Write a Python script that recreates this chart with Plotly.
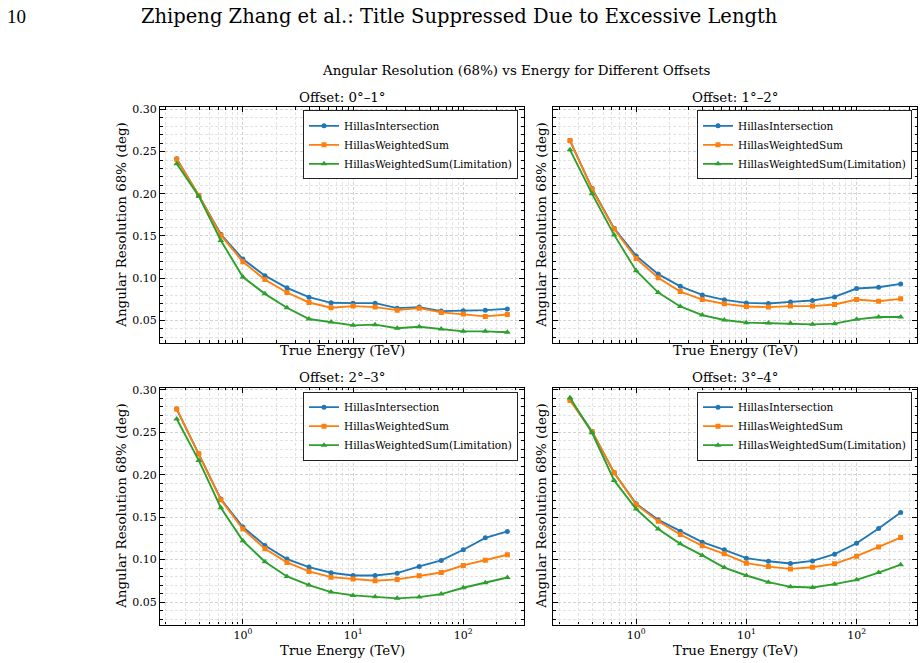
import plotly.graph_objects as go

energy = [0.251, 0.398, 0.631, 1.0, 1.585, 2.512, 3.981, 6.31, 10.0, 15.85, 25.12, 39.81, 63.1, 100.0, 158.5, 251.2]

offsets = ["Offset: 0°–1°", "Offset: 1°–2°", "Offset: 2°–3°", "Offset: 3°–4°"]
series_names = ["HillasIntersection", "HillasWeightedSum", "HillasWeightedSum(Limitation)"]

# Offset 0-1
p1_inter = [0.2415, 0.198, 0.152, 0.1226, 0.103, 0.0885, 0.0775, 0.0708, 0.0704, 0.0704, 0.0645, 0.0657, 0.061, 0.0614, 0.0621, 0.0636]
p1_wsum = [0.241, 0.198, 0.151, 0.1195, 0.0983, 0.083, 0.0712, 0.0649, 0.0669, 0.0657, 0.0621, 0.0645, 0.0594, 0.0574, 0.0547, 0.057]
p1_lim = [0.2356, 0.1972, 0.1446, 0.1014, 0.0814, 0.0649, 0.0516, 0.048, 0.0441, 0.0449, 0.0406, 0.0425, 0.0398, 0.037, 0.037, 0.0359]
# Offset 1-2
p2_inter = [0.2631, 0.2062, 0.159, 0.1264, 0.1048, 0.0904, 0.0802, 0.0743, 0.0707, 0.07, 0.0719, 0.0735, 0.0778, 0.0877, 0.0892, 0.0932]
p2_wsum = [0.2631, 0.2054, 0.1583, 0.1233, 0.1005, 0.0841, 0.0747, 0.0696, 0.0665, 0.0657, 0.0669, 0.0669, 0.0688, 0.0747, 0.0727, 0.0755]
p2_lim = [0.2521, 0.1999, 0.1513, 0.1088, 0.0829, 0.0665, 0.0563, 0.0504, 0.0473, 0.0469, 0.0465, 0.0453, 0.0461, 0.0512, 0.054, 0.054]
# Offset 2-3
p3_inter = [0.2772, 0.2246, 0.1713, 0.1383, 0.1167, 0.1006, 0.0912, 0.0845, 0.0814, 0.0814, 0.0841, 0.092, 0.0991, 0.1116, 0.1257, 0.1332]
p3_wsum = [0.2772, 0.2246, 0.1705, 0.136, 0.1128, 0.0967, 0.0861, 0.0794, 0.0771, 0.0751, 0.0767, 0.081, 0.0849, 0.0932, 0.0994, 0.1057]
p3_lim = [0.2655, 0.2168, 0.1611, 0.1222, 0.0975, 0.0802, 0.07, 0.0618, 0.0579, 0.0563, 0.0544, 0.0559, 0.0594, 0.0669, 0.0727, 0.079]
# Offset 3-4
p4_inter = [0.2882, 0.2509, 0.2022, 0.1657, 0.1468, 0.1335, 0.1205, 0.1115, 0.1017, 0.0981, 0.0954, 0.0985, 0.1064, 0.1193, 0.1366, 0.1554]
p4_wsum = [0.2874, 0.2505, 0.2022, 0.1649, 0.1453, 0.1296, 0.1162, 0.1068, 0.0958, 0.0918, 0.0891, 0.0911, 0.095, 0.104, 0.115, 0.126]
p4_lim = [0.2906, 0.2493, 0.1932, 0.1595, 0.1359, 0.1186, 0.1049, 0.0907, 0.0813, 0.0735, 0.068, 0.0672, 0.0711, 0.0762, 0.0848, 0.094]

panels = [
    [p1_inter, p1_wsum, p1_lim],
    [p2_inter, p2_wsum, p2_lim],
    [p3_inter, p3_wsum, p3_lim],
    [p4_inter, p4_wsum, p4_lim],
]

x_tickvals = [1, 10, 100]
x_ticktext = ["10<sup>0</sup>", "10<sup>1</sup>", "10<sup>2</sup>"]
y_tickvals = [0.05, 0.10, 0.15, 0.20, 0.25, 0.30]
y_ticktext = ["0.05", "0.10", "0.15", "0.20", "0.25", "0.30"]

colors = ["#1f77b4", "#ff7f0e", "#2ca02c"]
symbols = ["circle", "square", "triangle-up"]
msizes = [5, 5, 6]

W, H = 924, 663
FONT = "DejaVu Serif"

def px_x(p):
    return p / W

def px_y(p):
    return 1 - p / H

xdoms = [[px_x(160), px_x(524)], [px_x(553.3), px_x(917.3)]]
ydoms = [[px_y(340.7), px_y(104)], [px_y(624.3), px_y(386)]]

fig = go.Figure()

for i, data in enumerate(panels):
    ax = "" if i == 0 else str(i + 1)
    leg = "legend" if i == 0 else f"legend{i + 1}"
    for k in range(3):
        fig.add_trace(go.Scatter(
            x=energy, y=data[k], mode="lines+markers", name=series_names[k],
            line=dict(color=colors[k], width=1.9),
            marker=dict(symbol=symbols[k], size=msizes[k], color=colors[k]),
            xaxis="x" + ax, yaxis="y" + ax, legend=leg,
        ))

layout = dict(
    width=W, height=H, margin=dict(l=0, r=0, t=0, b=0),
    paper_bgcolor="white", plot_bgcolor="white",
    font=dict(family=FONT, size=11, color="black"),
)

GRID_MAJ = "#d2d2d2"
GRID_MIN = "#e3e3e3"
DASH = "3px,2px"

common_x = dict(
    type="log", range=[-0.752, 2.551], showline=True, linecolor="black", linewidth=1.2,
    mirror="allticks", ticks="inside", ticklen=5, tickwidth=1, tickcolor="black",
    tickvals=x_tickvals, ticktext=x_ticktext,
    showgrid=True, gridcolor=GRID_MAJ, griddash=DASH, gridwidth=0.8,
    minor=dict(dtick="D1", ticks="inside", ticklen=2.5, tickcolor="black", showgrid=True,
               gridcolor=GRID_MIN, griddash=DASH, gridwidth=0.7),
    tickfont=dict(family=FONT, size=11), zeroline=False,
)
common_y = dict(
    range=[0.0236, 0.3024], showline=True, linecolor="black", linewidth=1.2,
    mirror="allticks", ticks="inside", ticklen=5, tickwidth=1, tickcolor="black",
    tickvals=y_tickvals, ticktext=y_ticktext,
    showgrid=True, gridcolor=GRID_MAJ, griddash=DASH, gridwidth=0.8,
    minor=dict(dtick=0.01, tick0=0, ticks="inside", ticklen=2.5, tickcolor="black", showgrid=True,
               gridcolor=GRID_MIN, griddash=DASH, gridwidth=0.7),
    tickfont=dict(family=FONT, size=11), zeroline=False,
)

for i in range(4):
    r, c = divmod(i, 2)
    ax = "" if i == 0 else str(i + 1)
    xa = dict(common_x, domain=xdoms[c], anchor="y" + ax, showticklabels=(r == 1))
    ya = dict(common_y, domain=ydoms[r], anchor="x" + ax, showticklabels=(c == 0))
    layout["xaxis" + ax] = xa
    layout["yaxis" + ax] = ya
    leg = "legend" if i == 0 else f"legend{i + 1}"
    layout[leg] = dict(
        x=px_x(518 if c == 0 else 912), xanchor="right",
        y=px_y(107 if r == 0 else 390), yanchor="top",
        bgcolor="white", bordercolor="#222222", borderwidth=1,
        font=dict(family=FONT, size=10.5), itemwidth=30, tracegroupgap=0,
    )

fig.update_layout(**layout)

ann = []
# page header
ann.append(dict(text="10", x=px_x(5), y=px_y(13), xanchor="left", yanchor="middle",
                font=dict(family="Liberation Serif", size=19)))
ann.append(dict(text="Zhipeng Zhang et al.: Title Suppressed Due to Excessive Length",
                x=px_x(459), y=px_y(13), xanchor="center", yanchor="middle",
                font=dict(family=FONT, size=19.5)))
# suptitle
ann.append(dict(text="Angular Resolution (68%) vs Energy for Different Offsets",
                x=px_x(516), y=px_y(67), xanchor="center", yanchor="middle",
                font=dict(family=FONT, size=13.4)))
for i in range(4):
    r, c = divmod(i, 2)
    cx = (xdoms[c][0] + xdoms[c][1]) / 2
    ann.append(dict(text=offsets[i], x=cx, y=px_y(94 if r == 0 else 376),
                    xanchor="center", yanchor="middle", font=dict(family=FONT, size=13.4)))
    ann.append(dict(text="True Energy (TeV)", x=cx, y=px_y(349 if r == 0 else 650),
                    xanchor="center", yanchor="middle", font=dict(family=FONT, size=13.4)))
    tx = 120.7 if c == 0 else 540.7
    cy = (ydoms[r][0] + ydoms[r][1]) / 2
    ann.append(dict(text="Angular Resolution 68% (deg)", x=px_x(tx), y=cy,
                    xanchor="center", yanchor="middle", textangle=-90,
                    font=dict(family=FONT, size=13.4)))
for a in ann:
    a.update(xref="paper", yref="paper", showarrow=False)
fig.update_layout(annotations=ann)

fig.write_html("out.html")
